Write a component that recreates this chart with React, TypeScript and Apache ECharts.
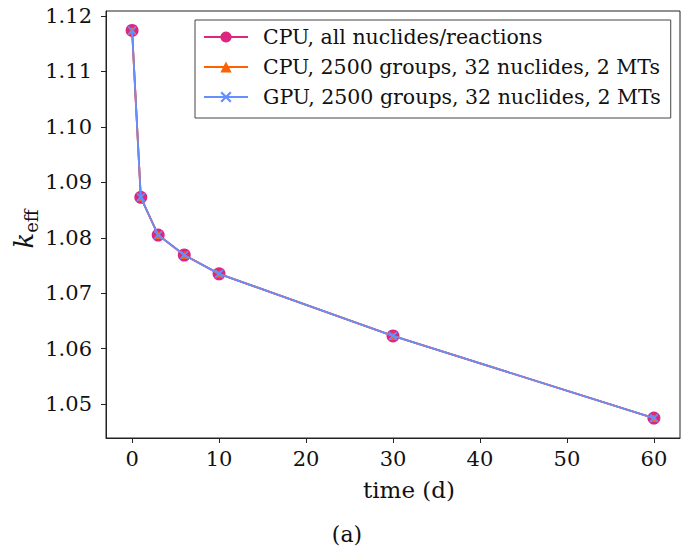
import React, { useEffect, useRef } from "react";
import * as echarts from "echarts";

const times = [0, 1, 3, 6, 10, 30, 60];
const cpuAll = [1.1174, 1.0873, 1.0805, 1.0769, 1.0735, 1.0623, 1.0475];
const cpuGroups = [1.1174, 1.0873, 1.0805, 1.0769, 1.0735, 1.0623, 1.0475];
const gpuGroups = [1.1174, 1.0873, 1.0805, 1.0769, 1.0735, 1.0623, 1.0475];
const xTicks = [0, 10, 20, 30, 40, 50, 60];
const yTicks = [1.05, 1.06, 1.07, 1.08, 1.09, 1.1, 1.11, 1.12];
const seriesNames = [
  "CPU, all nuclides/reactions",
  "CPU, 2500 groups, 32 nuclides, 2 MTs",
  "GPU, 2500 groups, 32 nuclides, 2 MTs",
];
const xName = "time (d)";

const FONT = "DejaVu Serif";
const XSYM = "path://M0,1.4L1.4,0L5,3.6L8.6,0L10,1.4L6.4,5L10,8.6L8.6,10L5,6.4L1.4,10L0,8.6L3.6,5Z";

export default function App() {
  const ref = useRef<HTMLDivElement>(null);
  useEffect(() => {
    if (!ref.current) return;
    const chart = echarts.init(ref.current, undefined, { renderer: "svg" });
    const pair = (arr: number[]) => times.map((t, i) => [t, arr[i]]);
    chart.setOption({
      animation: false,
      grid: {
        left: 106,
        top: 11,
        right: 8,
        bottom: 111,
        show: true,
        borderColor: "#222",
        borderWidth: 1,
      },
      xAxis: {
        type: "value",
        min: -3,
        max: 63,
        axisLine: { show: true, onZero: false, lineStyle: { color: "#222" } },
        axisTick: { show: true, length: 5, lineStyle: { color: "#222" }, customValues: xTicks },
        axisLabel: {
          fontFamily: FONT,
          fontSize: 21,
          color: "#111",
          margin: 10,
          customValues: xTicks,
          formatter: (v: number) => String(v),
        },
        splitLine: { show: false },
      },
      yAxis: {
        type: "value",
        min: 1.0439,
        max: 1.1209,
        axisLine: { show: true, onZero: false, lineStyle: { color: "#222" } },
        axisTick: { show: true, length: 5, lineStyle: { color: "#222" }, customValues: yTicks },
        axisLabel: {
          fontFamily: FONT,
          fontSize: 21,
          color: "#111",
          margin: 14,
          customValues: yTicks,
          formatter: (v: number) => v.toFixed(2),
        },
        splitLine: { show: false },
      },
      legend: {
        orient: "vertical",
        left: 195,
        top: 20,
        padding: [6, 10, 10, 8],
        itemGap: 8,
        itemWidth: 44,
        itemHeight: 14,
        borderColor: "#444",
        borderWidth: 1,
        borderRadius: 0,
        backgroundColor: "#fff",
        textStyle: { fontFamily: FONT, fontSize: 20.5, color: "#111", padding: [0, 0, 0, 10], lineHeight: 22 },
        data: seriesNames,
      },
      graphic: [
        {
          type: "text",
          x: 24,
          y: 229,
          rotation: Math.PI / 2,
          style: {
            text: "{k|k}{s|eff}",
            align: "center",
            verticalAlign: "middle",
            rich: {
              k: { fontFamily: FONT, fontStyle: "italic", fontSize: 26, fill: "#111", lineHeight: 32 },
              s: { fontFamily: FONT, fontSize: 18, fill: "#111", verticalAlign: "bottom", lineHeight: 32, padding: [10, 0, 0, 0] },
            },
          },
        },
        {
          type: "text",
          x: 409,
          y: 490,
          style: {
            text: xName,
            fontFamily: FONT,
            fontSize: 23,
            fill: "#111",
            align: "center",
            verticalAlign: "middle",
          },
        },
        {
          type: "text",
          x: 347,
          y: 534,
          style: {
            text: "(a)",
            fontFamily: FONT,
            fontSize: 22,
            fill: "#111",
            align: "center",
            verticalAlign: "middle",
          },
        },
      ],
      series: [
        {
          name: seriesNames[0],
          type: "line",
          data: pair(cpuAll),
          symbol: "circle",
          symbolSize: 13,
          lineStyle: { color: "#DC267F", width: 1.8 },
          itemStyle: { color: "#DC267F" },
          z: 2,
        },
        {
          name: seriesNames[1],
          type: "line",
          data: pair(cpuGroups),
          symbol: "triangle",
          symbolSize: 8,
          lineStyle: { color: "#FE6100", width: 1.8 },
          itemStyle: { color: "#FE6100" },
          z: 3,
        },
        {
          name: seriesNames[2],
          type: "line",
          data: pair(gpuGroups),
          symbol: XSYM,
          symbolSize: 9,
          lineStyle: { color: "#648FFF", width: 1.8 },
          itemStyle: { color: "#648FFF" },
          z: 4,
        },
      ],
    });
    return () => chart.dispose();
  }, []);
  return <div ref={ref} style={{ width: 688, height: 549, position: "absolute", left: 0, top: 0 }} />;
}
